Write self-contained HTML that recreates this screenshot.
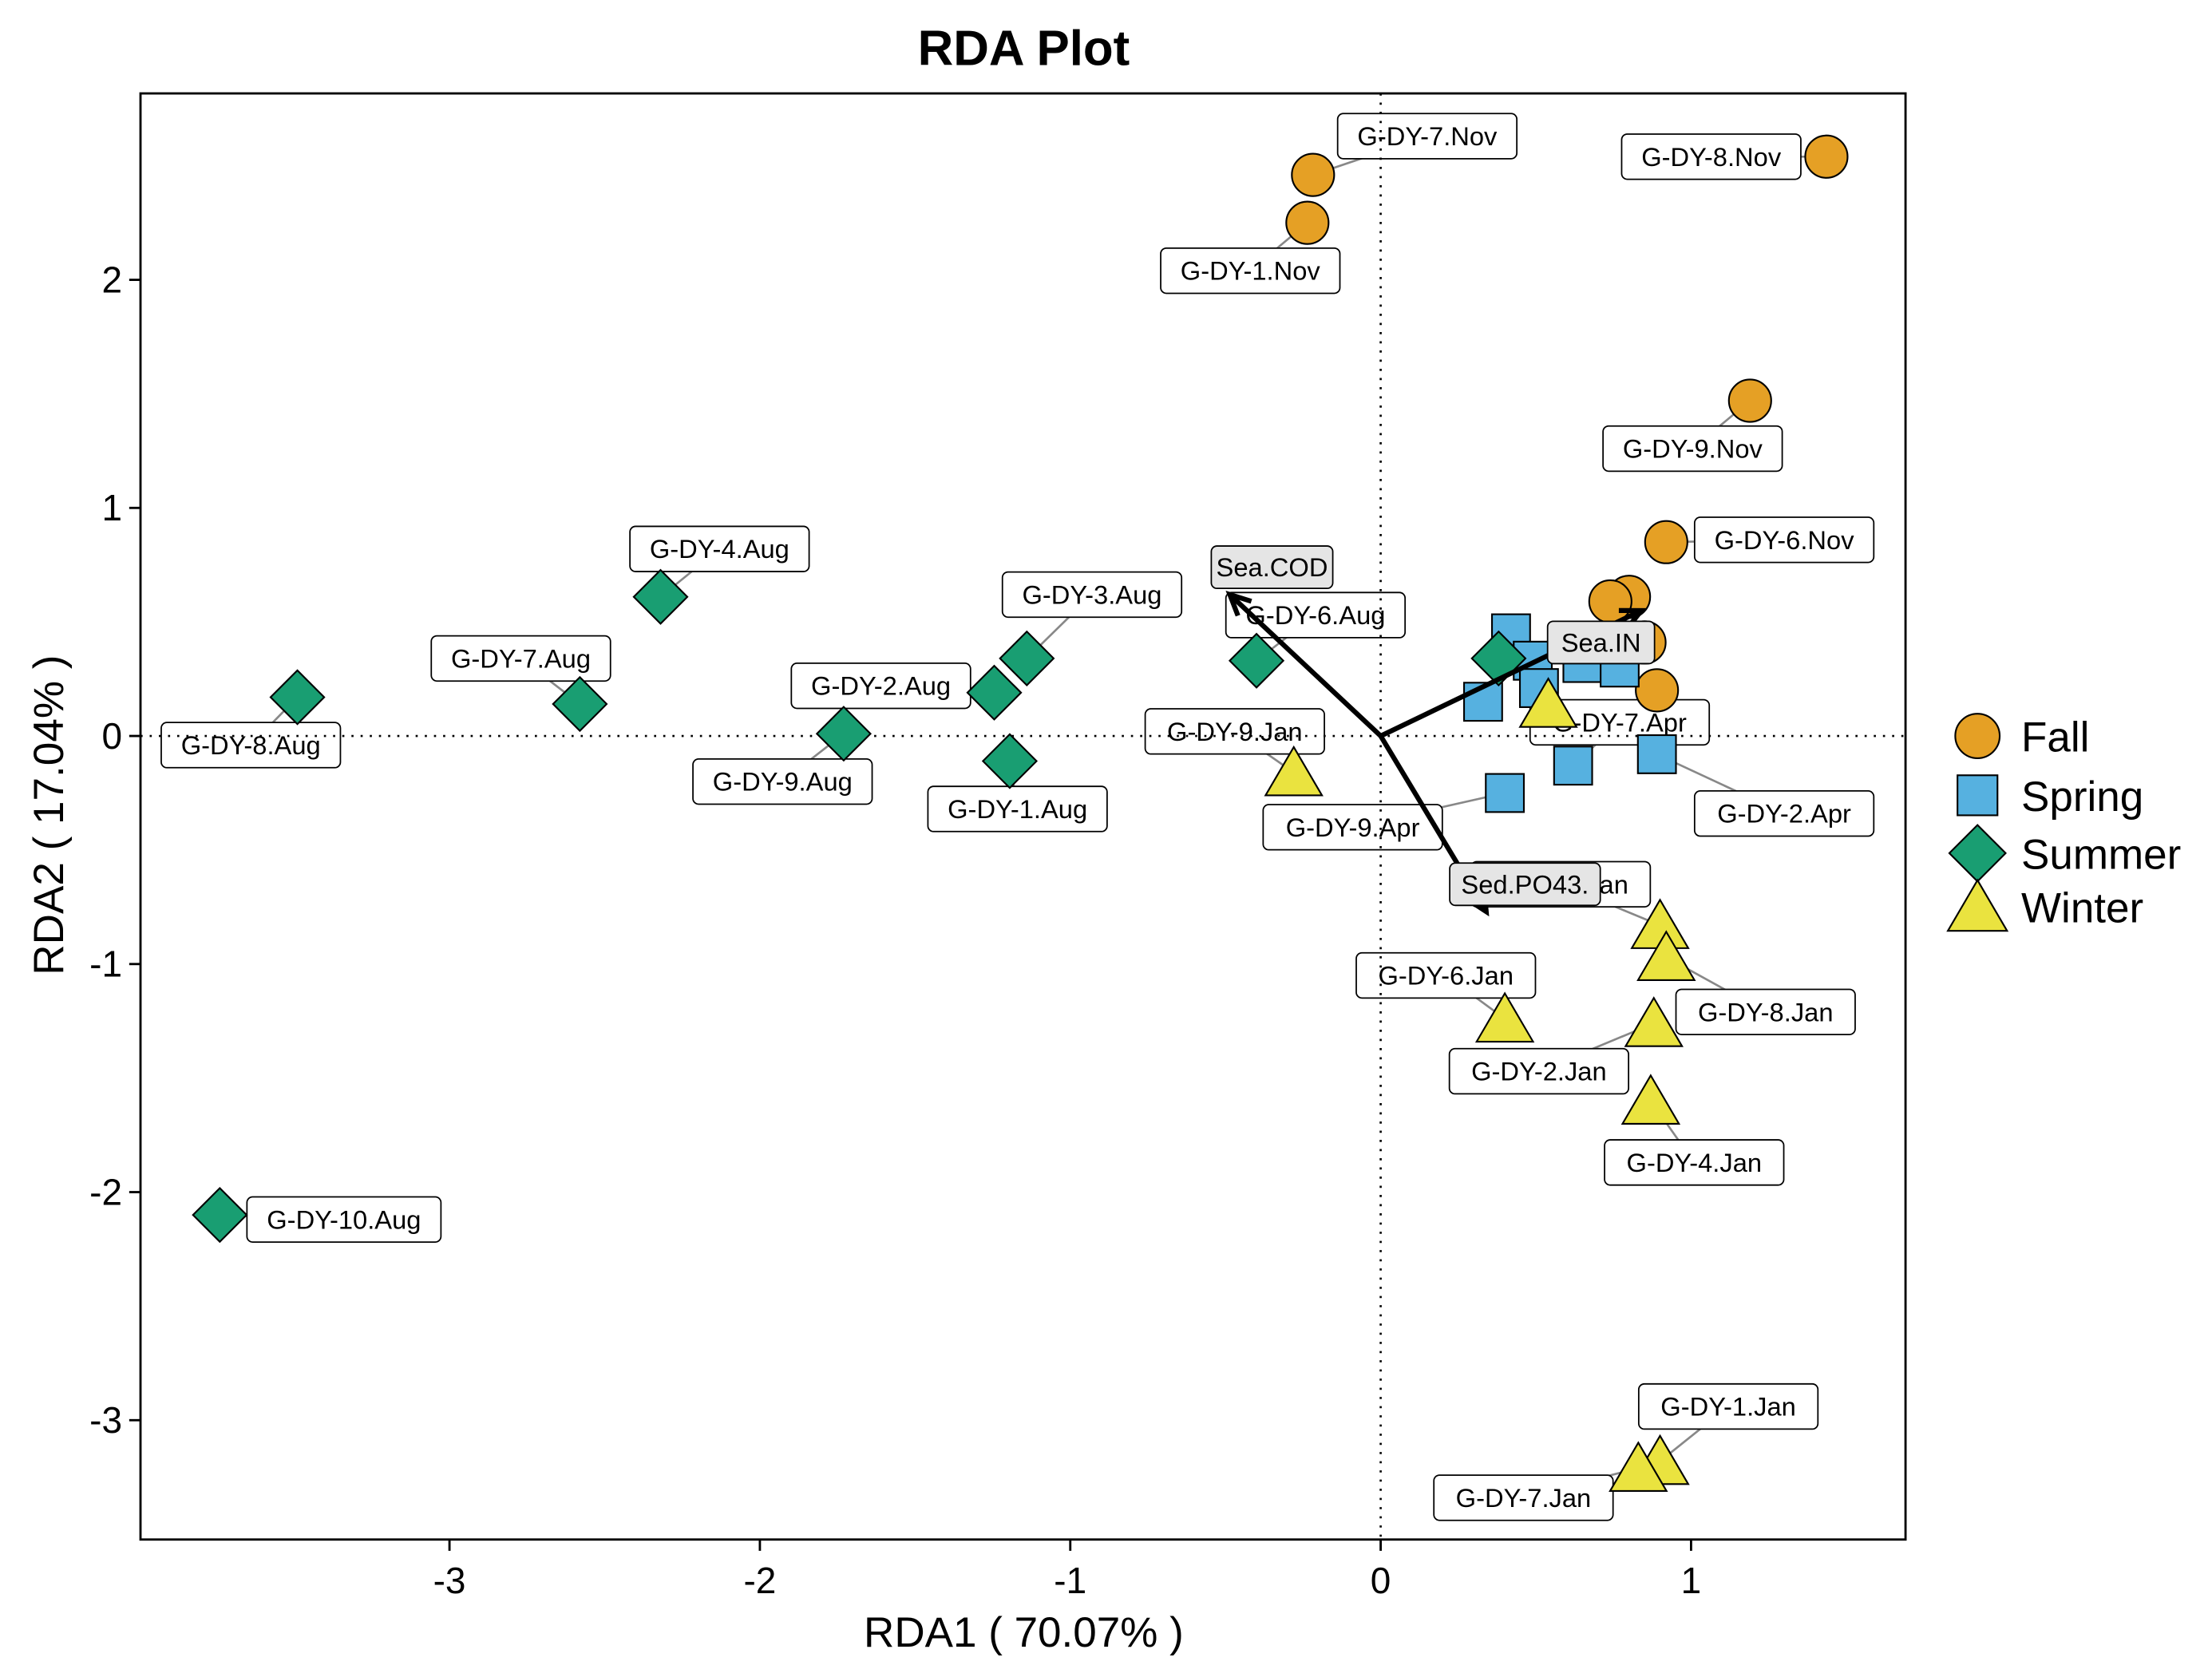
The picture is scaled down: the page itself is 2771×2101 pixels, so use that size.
<!DOCTYPE html>
<html><head><meta charset="utf-8"><style>
html,body{margin:0;padding:0;background:#fff;}
svg{display:block;font-family:"Liberation Sans",Arial,sans-serif;}
</style></head><body>
<svg id="chart" width="2771" height="2101" viewBox="0.42 0.85 1567.8 1187.5" preserveAspectRatio="none" xmlns="http://www.w3.org/2000/svg">
<rect x="-10" y="-10" width="1600" height="1210" fill="#fff"/>
<text x="726" y="47" font-size="35" font-weight="bold" text-anchor="middle">RDA Plot</text>
<g id="labels"></g>
<g id="grid"></g>
<g id="marks"></g>
<g id="arrows"></g>
<g id="axes"></g>
<g id="legend"></g>
</svg>
<script>
const seasons = ["Fall","Spring","Summer","Winter"];
const colors = {Fall:"#E5A025",Spring:"#56B1E0",Summer:"#199E72",Winter:"#EAE33F"};
const sampleNames = ["G-DY-7.Nov","G-DY-1.Nov","G-DY-8.Nov","G-DY-9.Nov","G-DY-6.Nov","F6","F7","F8","F9",
 "S1","S2","S3","S4","S5","S6","G-DY-7.Apr","G-DY-2.Apr","G-DY-9.Apr",
 "G-DY-8.Aug","G-DY-7.Aug","G-DY-4.Aug","G-DY-9.Aug","G-DY-2.Aug","G-DY-3.Aug","G-DY-1.Aug","G-DY-6.Aug","U9","G-DY-10.Aug",
 "G-DY-9.Jan","W2","G-DY-3.Jan","G-DY-8.Jan","G-DY-6.Jan","G-DY-2.Jan","G-DY-4.Jan","G-DY-1.Jan","G-DY-7.Jan"];
const sampleSeason = ["Fall","Fall","Fall","Fall","Fall","Fall","Fall","Fall","Fall",
 "Spring","Spring","Spring","Spring","Spring","Spring","Spring","Spring","Spring",
 "Summer","Summer","Summer","Summer","Summer","Summer","Summer","Summer","Summer","Summer",
 "Winter","Winter","Winter","Winter","Winter","Winter","Winter","Winter","Winter"];
const rda1 = [-0.218,-0.236,1.436,1.19,0.92,0.80,0.74,0.85,0.89,
 0.42,0.49,0.65,0.77,0.51,0.33,0.62,0.89,0.40,
 -3.49,-2.58,-2.32,-1.73,-1.245,-1.14,-1.195,-0.40,0.38,-3.74,
 -0.28,0.54,0.90,0.92,0.40,0.88,0.87,0.90,0.83];
const rda2 = [2.46,2.25,2.54,1.47,0.85,0.61,0.59,0.41,0.20,
 0.45,0.33,0.32,0.30,0.21,0.15,-0.13,-0.08,-0.25,
 0.17,0.14,0.61,0.01,0.19,0.34,-0.11,0.33,0.34,-2.10,
 -0.16,0.14,-0.83,-0.97,-1.24,-1.26,-1.60,-3.18,-3.21];
const labX = [0.15,-0.42,1.065,1.005,1.30,null,null,null,null,
 null,null,null,null,null,null,0.77,1.30,-0.09,
 -3.64,-2.77,-2.13,-1.927,-1.61,-0.93,-1.17,-0.21,null,-3.34,
 -0.47,null,0.58,1.24,0.21,0.51,1.01,1.12,0.46];
const labY = [2.63,2.04,2.54,1.26,0.86,null,null,null,null,
 null,null,null,null,null,null,0.06,-0.34,-0.40,
 -0.04,0.34,0.82,-0.20,0.22,0.62,-0.32,0.53,null,-2.12,
 0.02,null,-0.65,-1.21,-1.05,-1.47,-1.87,-2.94,-3.34];
const envNames = ["Sea.COD","Sea.IN","Sed.PO43."];
const envX = [-0.486,0.84,0.34];
const envY = [0.62,0.55,-0.77];
const envLabX = [-0.35,0.71,0.465];
const envLabY = [0.74,0.41,-0.65];
const xTicks = [-3,-2,-1,0,1];
const yTicks = [-3,-2,-1,0,1,2];

const NS="http://www.w3.org/2000/svg";
const X0=100,X1=1351,Y0=67,Y1=1091;
const sx=v=>979+220*v, sy=v=>522-161.5*v;
function mk(tag,attrs,parent){const e=document.createElementNS(NS,tag);for(const k in attrs)e.setAttribute(k,attrs[k]);parent.appendChild(e);return e;}
const gL=document.getElementById('labels'),gG=document.getElementById('grid'),gM=document.getElementById('marks'),gA=document.getElementById('arrows'),gX=document.getElementById('axes'),gLeg=document.getElementById('legend');

function marker(season,cx,cy,parent,scale){
  scale=scale||1;const c=colors[season];let e;
  if(season==="Fall"){e=mk('circle',{cx:cx,cy:cy,r:15*scale,fill:c,stroke:'#000','stroke-width':1.2},parent);}
  else if(season==="Spring"){const s=27*scale;e=mk('rect',{x:cx-s/2,y:cy-s/2,width:s,height:s,fill:c,stroke:'#000','stroke-width':1.2},parent);}
  else if(season==="Summer"){const d=19*scale;e=mk('polygon',{points:`${cx},${cy-d} ${cx+d},${cy} ${cx},${cy+d} ${cx-d},${cy}`,fill:c,stroke:'#000','stroke-width':1.2},parent);}
  else {const w=20*scale,h=18*scale;e=mk('polygon',{points:`${cx},${cy-h} ${cx+w},${cy+h*0.9} ${cx-w},${cy+h*0.9}`,fill:c,stroke:'#000','stroke-width':1.2},parent);}
  return e;
}

for(let i=0;i<sampleNames.length;i++){
  if(labX[i]===null) continue;
  const lx=sx(labX[i]),ly=sy(labY[i]),px=sx(rda1[i]),py=sy(rda2[i]);
  const w=sampleNames[i].length*10.5+22,h=32;
  const g=mk('g',{},gL);
  
  
  mk('line',{x1:px,y1:py,x2:lx,y2:ly,stroke:'#888','stroke-width':1.5},g);
  mk('rect',{x:lx-w/2,y:ly-h/2,width:w,height:h,rx:4,fill:'#fff',stroke:'#000','stroke-width':1},g);
  const t=mk('text',{x:lx,y:ly+6.5,'font-size':18.5,'text-anchor':'middle'},g);t.textContent=sampleNames[i];
}
const zh=mk('line',{x1:X0,y1:sy(0),x2:X1,y2:sy(0),stroke:'#000','stroke-width':1.5,'stroke-dasharray':'1.5 5'},gG);


const zv=mk('line',{x1:sx(0),y1:Y0,x2:sx(0),y2:Y1,stroke:'#000','stroke-width':1.5,'stroke-dasharray':'1.5 5'},gG);


for(let i=0;i<sampleNames.length;i++){
  const e=marker(sampleSeason[i],sx(rda1[i]),sy(rda2[i]),gM);
  
  
}
for(let i=0;i<envNames.length;i++){
  const x1=sx(0),y1=sy(0),x2=sx(envX[i]),y2=sy(envY[i]);
  const g=mk('g',{},gA);
  
  
  mk('line',{x1:x1,y1:y1,x2:x2,y2:y2,stroke:'#000','stroke-width':3.5},g);
  const a=Math.atan2(y2-y1,x2-x1),L=16,sp=0.45;
  mk('polyline',{points:`${x2-L*Math.cos(a-sp)},${y2-L*Math.sin(a-sp)} ${x2},${y2} ${x2-L*Math.cos(a+sp)},${y2-L*Math.sin(a+sp)}`,fill:'none',stroke:'#000','stroke-width':3.5},g);
}
for(let i=0;i<envNames.length;i++){
  const lx=sx(envLabX[i]),ly=sy(envLabY[i]);const w=envNames[i].length*10.3+14,h=30;
  const g=mk('g',{},gA);
  
  
  mk('rect',{x:lx-w/2,y:ly-h/2,width:w,height:h,rx:4,fill:'#e5e5e5',stroke:'#000','stroke-width':1},g);
  const t=mk('text',{x:lx,y:ly+6.5,'font-size':18.5,'text-anchor':'middle'},g);t.textContent=envNames[i];
}
const fr=mk('rect',{x:X0,y:Y0,width:X1-X0,height:Y1-Y0,fill:'none',stroke:'#000','stroke-width':1.6},gX);


for(const v of xTicks){
  mk('line',{x1:sx(v),y1:Y1,x2:sx(v),y2:Y1+8,stroke:'#000','stroke-width':1.6},gX);
  const t=mk('text',{x:sx(v),y:1129,'font-size':26,'text-anchor':'middle'},gX);t.textContent=v;
  
  
}
for(const v of yTicks){
  mk('line',{x1:X0-8,y1:sy(v),x2:X0,y2:sy(v),stroke:'#000','stroke-width':1.6},gX);
  const t=mk('text',{x:87,y:sy(v)+9,'font-size':26,'text-anchor':'end'},gX);t.textContent=v;
  
  
}
const xt=mk('text',{x:726,y:1167,'font-size':30,'text-anchor':'middle'},gX);xt.textContent='RDA1 ( 70.07% )';


const yt=mk('text',{x:0,y:0,'font-size':30,'text-anchor':'middle',transform:'translate(45,578) rotate(-90)'},gX);yt.textContent='RDA2 ( 17.04% )';


const legY=[522,564,605,643];
seasons.forEach((s,i)=>{
  const g=mk('g',{},gLeg);
  
  
  marker(s,1402,legY[i],g,1.05);
  const t=mk('text',{x:1433,y:legY[i]+11,'font-size':30},g);t.textContent=s;
});
</script>
</body></html>
